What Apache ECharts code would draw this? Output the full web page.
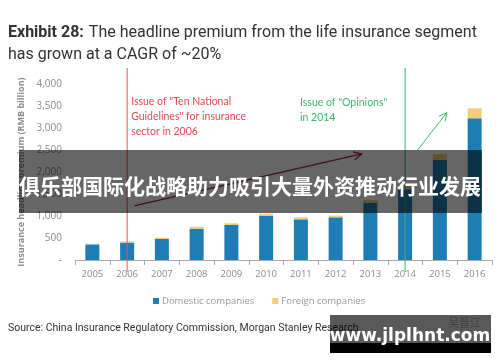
<!DOCTYPE html>
<html><head><meta charset="utf-8">
<script src="https://cdn.jsdelivr.net/npm/echarts@6/dist/echarts.min.js"></script>
<style>html,body{margin:0;padding:0;background:#fff}#c{width:500px;height:362px}</style>
</head><body><div id="c"></div>
<script>
var years = ['2005','2006','2007','2008','2009','2010','2011','2012','2013','2014','2015','2016'];
var domestic = [355, 395, 477, 711, 795, 1007, 925, 970, 1300, 1610, 2273, 3220];
var foreign = [15, 30, 30, 45, 40, 45, 45, 40, 60, 110, 136, 228];
var yTicks = [0, 500, 1000, 1500, 2000, 2500, 3000, 3500, 4000];
var titleLine1 = 'The headline premium from the life insurance segment';
var titleLine2 = 'has grown at a CAGR of ~20%';
var bannerText = '俱乐部国际化战略助力吸引大量外资推动行业发展';

var chart = echarts.init(document.getElementById('c'), null, {renderer:'canvas'});
var gridLeft = 75, gridTop = 84, gridRight = 8, gridBottom = 102;
var option = {
  animation: false,
  title: {
    left: 3, top: 17,
    text: '{b|Exhibit 28:} {n|' + titleLine1 + '}\n{n|' + titleLine2 + '}',
    textStyle: {
      fontWeight: 'normal',
      rich: {
        b: {fontFamily:'Roboto', fontWeight:'bold', fontSize:16, color:'#333', lineHeight:22},
        n: {fontFamily:'Roboto', fontWeight:'normal', fontSize:16, color:'#333', lineHeight:22}
      }
    }
  },
  legend: {
    left: 148, top: 291,
    itemWidth: 6, itemHeight: 6, itemGap: 18,
    icon: 'rect',
    textStyle: {fontFamily:'Open Sans', fontSize:9.5, color:'#999', padding:[0,0,0,-2]},
    data: ['Domestic companies', 'Foreign companies']
  },
  grid: {left: gridLeft, top: gridTop, right: gridRight, bottom: gridBottom},
  xAxis: {
    type: 'category', data: years,
    axisLine: {lineStyle: {color:'#aaa'}},
    axisTick: {show:true, length:5, lineStyle:{color:'#aaa'}},
    axisLabel: {fontFamily:'Open Sans', fontSize:9.5, color:'#8c8c8c', margin:9}
  },
  yAxis: {
    type: 'value', min: yTicks[0], max: yTicks[yTicks.length-1], interval: 500,
    name: 'Insurance headline premium (RMB billion)',
    nameLocation: 'middle', nameGap: 48,
    nameTextStyle: {fontFamily:'Open Sans', fontSize:9, fontWeight:'bold', color:'#8c8c8c'},
    axisLine: {show:false}, axisTick: {show:false}, splitLine: {show:false},
    axisLabel: {
      fontFamily:'Open Sans', fontSize:10, color:'#8c8c8c', margin:13,
      formatter: function(v){ return v === 0 ? '-' : v.toLocaleString('en-US'); }
    }
  },
  series: [
    {name:'Domestic companies', type:'bar', stack:'t', data: domestic, barWidth: 14,
     itemStyle:{color:'#1f7db5'}},
    {name:'Foreign companies', type:'bar', stack:'t', data: foreign, barWidth: 14,
     itemStyle:{color:'#f0cc7c'}}
  ]
};
chart.setOption(option);

function px(catIdx, val) {
  var a = chart.convertToPixel({gridIndex:0}, [Math.floor(catIdx), val]);
  var b = chart.convertToPixel({gridIndex:0}, [Math.floor(catIdx)+1 < years.length ? Math.floor(catIdx)+1 : Math.floor(catIdx), val]);
  var step = (Math.floor(catIdx)+1 < years.length) ? (b[0]-a[0]) : 34.75;
  return [a[0] + (catIdx - Math.floor(catIdx)) * step, a[1]];
}
function arrow(p0, p1, color, w) {
  var dx = p1[0]-p0[0], dy = p1[1]-p0[1], L = Math.sqrt(dx*dx+dy*dy);
  var ux = dx/L, uy = dy/L, h = 8, s = 4;
  var l1 = [p1[0]-ux*h - uy*s, p1[1]-uy*h + ux*s];
  var l2 = [p1[0]-ux*h + uy*s, p1[1]-uy*h - ux*s];
  return [
    {type:'line', shape:{x1:p0[0],y1:p0[1],x2:p1[0],y2:p1[1]}, style:{stroke:color, lineWidth:w}, z:50},
    {type:'polyline', shape:{points:[l1,p1,l2]}, style:{stroke:color, lineWidth:w, fill:null}, z:50}
  ];
}
var i2006 = years.indexOf('2006'), i2014 = years.indexOf('2014');
var xRed = px(i2006, 0)[0], xGreen = px(i2014, 0)[0];
var g = [];
g.push({type:'line', shape:{x1:xRed, y1:68, x2:xRed, y2:272}, style:{stroke:'#e8505a', lineWidth:1}, z:50});
g.push({type:'line', shape:{x1:xGreen, y1:68, x2:xGreen, y2:272}, style:{stroke:'#3db46d', lineWidth:1}, z:50});
var annRed = ['Issue of "Ten National', 'Guidelines" for insurance', 'sector in 2006'];
var annGreen = ['Issue of "Opinions"', 'in 2014'];
annRed.forEach(function(t, i){
  g.push({type:'text', x: xRed+4, y: 102 + i*15, style:{text:t, fill:'#e8474f', font:'10.5px Lato', textVerticalAlign:'middle'}, z:50});
});
annGreen.forEach(function(t, i){
  g.push({type:'text', x: 300, y: 103 + i*15, style:{text:t, fill:'#3db46d', font:'10.5px Lato', textVerticalAlign:'middle'}, z:50});
});
g = g.concat(arrow(px(1.2, 1230), px(7.75, 2410), '#a02838', 1.3));
g = g.concat(arrow(px(9.36, 2500), px(10.2, 3350), '#3db46d', 1));
g.push({type:'text', x: 8, y: 328, style:{text:'Source: China Insurance Regulatory Commission, Morgan Stanley Research', fill:'#333', font:'10.5px Roboto', textVerticalAlign:'middle'}, z:50});
g.push({type:'text', x: 448, y: 323, style:{text:'吴晋江', fill:'#bbb', font:'11px "Noto Sans CJK SC"', textVerticalAlign:'middle'}, z:50});
// overlay banner
g.push({type:'rect', shape:{x:19, y:150, width:463, height:63}, style:{fill:'rgba(0,0,0,0.6)'}, z:100});
g.push({type:'text', x: 250, y: 186, style:{text: bannerText, fill:'#fff', font:'bold 21px "Noto Sans CJK SC"', textAlign:'center', textVerticalAlign:'middle'}, z:101});
// watermark box
g.push({type:'rect', shape:{x:330, y:315, width:161, height:28}, style:{fill:'rgba(0,0,0,0.65)'}, z:100});
g.push({type:'rect', shape:{x:330, y:343, width:161, height:10}, style:{fill:'#000'}, z:100});
g.push({type:'text', x: 410, y: 337, style:{text:'www.jlplhnt.com', fill:'#fff', font:'bold 17px "DejaVu Sans"', textAlign:'center', textVerticalAlign:'middle'}, z:101});
chart.setOption({graphic: g});
</script></body></html>
